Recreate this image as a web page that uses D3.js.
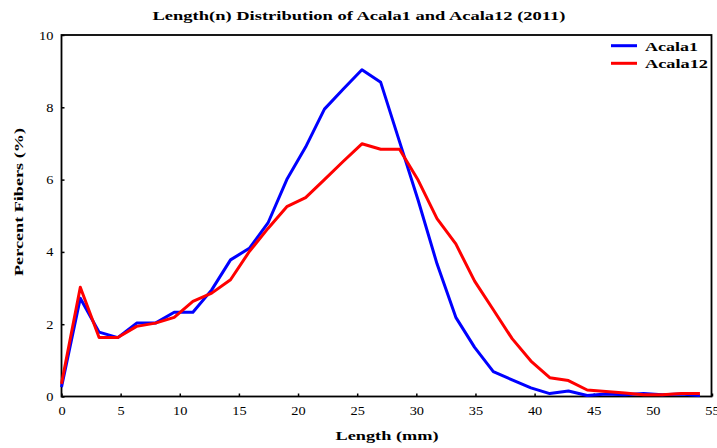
<!DOCTYPE html>
<html><head><meta charset="utf-8">
<script src="https://cdn.jsdelivr.net/npm/d3@7"></script>
<style>body{margin:0;background:#fff}svg{display:block}</style>
</head><body>
<script>
const lengths = [0,1.59,3.18,4.76,6.35,7.94,9.53,11.11,12.7,14.29,15.88,17.46,19.05,20.64,22.23,23.81,25.4,26.99,28.58,30.16,31.75,33.34,34.93,36.51,38.1,39.69,41.28,42.86,44.45,46.04,47.63,49.21,50.8,52.39,53.98];
const acala1 = [0.26,2.72,1.78,1.63,2.03,2.03,2.33,2.33,2.95,3.78,4.1,4.8,6.0,6.9,7.95,8.5,9.04,8.69,7.05,5.42,3.67,2.19,1.36,0.69,0.46,0.24,0.08,0.15,0.03,0.07,0.05,0.08,0.05,0.07,0.03];
const acala12 = [0.35,3.02,1.63,1.63,1.94,2.03,2.19,2.63,2.86,3.23,4.01,4.65,5.25,5.5,6.0,6.5,6.99,6.84,6.84,5.98,4.92,4.22,3.19,2.4,1.6,0.98,0.52,0.44,0.18,0.14,0.1,0.05,0.05,0.08,0.08];
const xTicks = [0,5,10,15,20,25,30,35,40,45,50,55];
const yTicks = [0,2,4,6,8,10];
const seriesNames = ["Acala1","Acala12"];
const seriesColors = ["#0000ff","#ff0000"];

const W=717,H=448;
const svg=d3.select("body").append("svg").attr("width",W).attr("height",H);
const x=d3.scaleLinear().domain([0,55]).range([61.5,712]);
const y=d3.scaleLinear().domain([0,10]).range([396.5,35]);
const font='"Liberation Serif"';

function stretchText(sel,len){
  return sel.style("font-family",font).attr("textLength",len).attr("lengthAdjust","spacingAndGlyphs");
}

stretchText(svg.append("text").attr("x",359).attr("y",20).attr("text-anchor","middle")
  .attr("font-weight","bold").attr("font-size",12)
  .text("Length(n) Distribution of Acala1 and Acala12 (2011)"),413);

const xa=svg.append("g").attr("transform",`translate(0,${y(0)})`)
  .call(d3.axisBottom(x).tickValues(xTicks).tickSizeInner(-3).tickSizeOuter(0).tickPadding(10));
const ya=svg.append("g").attr("transform",`translate(${x(0)},0)`)
  .call(d3.axisLeft(y).tickValues(yTicks).tickSizeInner(-3).tickSizeOuter(0).tickPadding(7));
[xa,ya].forEach(a=>{
  a.attr("font-family",null);
  a.select(".domain").remove();
  a.selectAll("text").style("font-family",font).attr("font-size",12.5).attr("fill","#000")
    .attr("transform","scale(1.15,1)");
  a.selectAll("line").attr("stroke","#000").attr("stroke-width",1.5);
});

svg.append("rect").attr("x",x(0)).attr("y",y(10)).attr("width",711.5-x(0)).attr("height",y(0)-y(10))
  .attr("fill","none").attr("stroke","#000").attr("stroke-width",1.8);

const line=d3.line().x((d,i)=>x(lengths[i])).y(d=>y(d));
[acala1,acala12].forEach((s,k)=>{
  svg.append("path").datum(s).attr("d",line).attr("fill","none")
    .attr("stroke",seriesColors[k]).attr("stroke-width",3).attr("stroke-linejoin","round");
});

stretchText(svg.append("text").attr("x",387).attr("y",440).attr("text-anchor","middle")
  .attr("font-weight","bold").attr("font-size",12).text("Length (mm)"),103);
stretchText(svg.append("text").attr("transform","translate(23,202) rotate(-90)").attr("text-anchor","middle")
  .attr("font-weight","bold").attr("font-size",12).text("Percent Fibers (%)"),148);

const lg=svg.append("g");
const legendLens=[53,63];
seriesNames.forEach((n,k)=>{
  const yy=45.7+k*17.6;
  lg.append("line").attr("x1",611).attr("x2",637).attr("y1",yy).attr("y2",yy)
    .attr("stroke",seriesColors[k]).attr("stroke-width",3);
  stretchText(lg.append("text").attr("x",645).attr("y",yy+5)
    .attr("font-weight","bold").attr("font-size",12).text(n),legendLens[k]);
});
</script>
</body></html>
